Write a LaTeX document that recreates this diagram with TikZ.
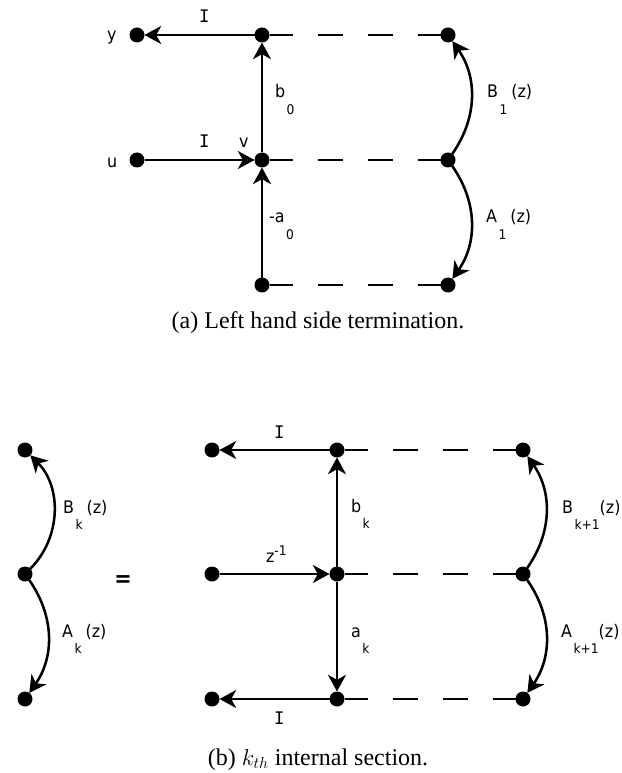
\documentclass[tikz,border=0pt]{standalone}
\usepackage{fontspec}
\setmainfont{Liberation Serif}
\newfontfamily\labfont[FakeStretch=0.92]{DejaVu Sans}
\newfontfamily\monofont{DejaVu Sans Mono}
\usetikzlibrary{arrows.meta,positioning}
\newcommand{\sublab}[2]{#1\kern1.2pt\raisebox{-12.5pt}{\fontsize{10}{10}\selectfont #2}}
\newcommand{\gainI}{{\monofont I}}

\begin{document}
\begin{tikzpicture}[
  x=0.75pt, y=-0.75pt,
  on grid,
  every node/.style={inner sep=0pt, outer sep=0pt},
  junction/.style={circle, fill=black, minimum size=11.25pt},
  link/.style={draw=black, line width=1.9pt, -{Stealth[length=12.5pt,width=13.5pt,inset=3.75pt]}},
  dashlink/.style={draw=black, line width=1.9pt, dash pattern=on 18.75pt off 18.75pt, dash phase=1.5pt},
  lab/.style={anchor=base west, font=\labfont\fontsize{13}{13}\selectfont},
  capt/.style={anchor=base, font=\fontsize{18}{20}\selectfont}
]
  \path[use as bounding box] (0,0) rectangle (621,773);

  % (a) left hand side termination
  \node[junction] (y) at (137,35) {};
  \node[junction, right=93.75pt of y] (t0) {};
  \node[junction, right=139.5pt of t0] (t1) {};
  \node[junction, below=93.75pt of y] (u) {};
  \node[junction, right=93.75pt of u] (v) {};
  \node[junction, right=139.5pt of v] (m1) {};
  \node[junction, below=93.75pt of v] (b0) {};
  \node[junction, right=139.5pt of b0] (b1) {};

  \draw[link] (t0) -- (y);
  \draw[link] (u) -- (v);
  \draw[link] (v) -- (t0);
  \draw[link] (b0) -- (v);
  \draw[dashlink] (t0) -- (t1);
  \draw[dashlink] (v) -- (m1);
  \draw[dashlink] (b0) -- (b1);
  \draw[link] (m1) to[bend right=35] (t1);
  \draw[link] (m1) to[bend left=35] (b1);

  \node[lab] (ly) at (107,41) {y};
  \node[lab] (lu) at (107,168) {u};
  \node[lab] (li1) at (199,23) {\gainI};
  \node[lab] (li2) at (199,148) {\gainI};
  \node[lab] (lv) at (239,148) {v};
  \node[lab] (lb0) at (275,98) {\sublab{b}{0}};
  \node[lab] (la0) at (269,223) {\sublab{-a}{0}};
  \node[lab] (lB1) at (487,98) {\sublab{B}{1}\kern3pt(z)};
  \node[lab] (lA1) at (486,223) {\sublab{A}{1}\kern3pt(z)};
  \node[capt] (capa) at (318,328) {(a) Left hand side termination.};

  % (b) internal section
  \node[junction] (kt) at (25,450) {};
  \node[junction, below=93pt of kt] (km) {};
  \node[junction, below=93.75pt of km] (kb) {};
  \draw[link] (km) to[bend right=45] (kt);
  \draw[link] (km) to[bend left=35] (kb);
  \node[lab] (lBk) at (63,513) {\sublab{B}{k}\kern3pt(z)};
  \node[lab] (lAk) at (62,637) {\sublab{A}{k}\kern3pt(z)};
  \node[lab, anchor=base, font=\labfont\bfseries\fontsize{17}{17}\selectfont] (eq) at (123,586) {=};

  \node[junction] (s1) at (212,450) {};
  \node[junction, right=93.75pt of s1] (s2) {};
  \node[junction, right=139.5pt of s2] (s3) {};
  \node[junction, below=93pt of s1] (x1) {};
  \node[junction, right=93.75pt of x1] (x2) {};
  \node[junction, right=139.5pt of x2] (x3) {};
  \node[junction, below=93.75pt of x1] (r1) {};
  \node[junction, right=93.75pt of r1] (r2) {};
  \node[junction, right=139.5pt of r2] (r3) {};

  \draw[link] (s2) -- (s1);
  \draw[link] (x1) -- (x2);
  \draw[link] (r2) -- (r1);
  \draw[link] (x2) -- (s2);
  \draw[link] (x2) -- (r2);
  \draw[dashlink] (s2) -- (s3);
  \draw[dashlink] (x2) -- (x3);
  \draw[dashlink] (r2) -- (r3);
  \draw[link] (x3) to[bend right=35] (s3);
  \draw[link] (x3) to[bend left=35] (r3);

  \node[lab] (li3) at (274,438) {\gainI};
  \node[lab] (li4) at (274,724) {\gainI};
  \node[lab] (lz) at (266,562) {z\raisebox{5pt}{\fontsize{10}{10}\selectfont -1}};
  \node[lab] (lbk) at (351,512) {\sublab{b}{k}};
  \node[lab] (lak) at (351,637) {\sublab{a}{k}};
  \node[lab] (lBk1) at (562,513) {\sublab{B}{k+1}(z)};
  \node[lab] (lAk1) at (561,637) {\sublab{A}{k+1}(z)};
  \node[capt] (capb) at (318,765) {(b) $k_{th}$ internal section.};
\end{tikzpicture}
\end{document}
